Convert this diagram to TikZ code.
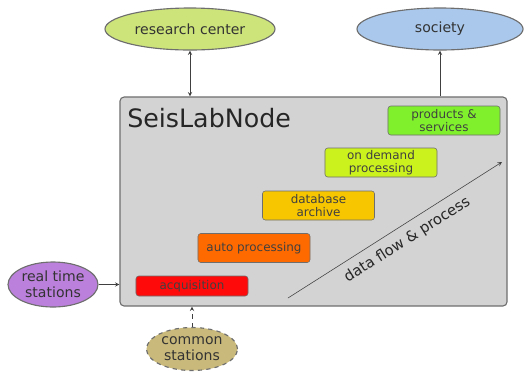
\documentclass[tikz,border=0pt]{standalone}
\usepackage{fontspec}
\setmainfont{DejaVu Sans}
\usetikzlibrary{positioning,shapes.geometric,calc}

\definecolor{rcgreen}{HTML}{CDE47A}
\definecolor{socblue}{HTML}{A9C8EB}
\definecolor{labgray}{HTML}{D3D3D3}
\definecolor{prodgreen}{HTML}{80F02C}
\definecolor{demandgreen}{HTML}{CCF21E}
\definecolor{archgold}{HTML}{F7C600}
\definecolor{autoorange}{HTML}{FF6A00}
\definecolor{acqred}{HTML}{FF0A0A}
\definecolor{rtpurple}{HTML}{BB80DB}
\definecolor{cskhaki}{HTML}{C9B97A}
\definecolor{edgegray}{HTML}{6E6E6E}

\begin{document}
\begin{tikzpicture}[x=0.025cm, y=-0.025cm, >=stealth,
		cloud/.style={ellipse, draw=edgegray, thick, text=black!80, font=\fontsize{10}{11.5}\selectfont, align=center, inner sep=0pt},
		stagebox/.style={draw=edgegray, rounded corners=2pt, minimum width=2.8cm, minimum height=0.725cm, inner sep=0pt, align=center, text=black!75, font=\fontsize{8.5}{9.5}\selectfont},
		labbox/.style={draw=edgegray, thick, fill=labgray, rounded corners=3pt, minimum width=9.675cm, minimum height=5.225cm, inner sep=0pt}]
	\useasboundingbox (0,0) rectangle (525,371);

	% outer world
	\node[cloud, fill=rcgreen, minimum width=4.25cm, minimum height=1.05cm] (rc) at (190,29) {research center};
	\node[cloud, fill=socblue, minimum width=4.15cm, minimum height=1.05cm] (soc) at (440,29) {society};
	\node[cloud, fill=rtpurple, minimum width=2.25cm, minimum height=1.125cm] (rts) at (53,284.5) {real time\\stations};
	\node[cloud, fill=cskhaki, dashed, minimum width=2.275cm, minimum height=1.075cm] (cs) at (192,349) {common\\stations};

	% the node itself
	\node[labbox] (lab) at (313.5,201.5) {};
	\node[anchor=west, inner sep=0pt, text=black!85, font=\fontsize{18}{20}\selectfont] (title) at (127,118) {SeisLabNode};

	% stages
	\node[stagebox, fill=acqred, minimum height=0.5cm] (acq) at (192,286) {acquisition};
	\node[stagebox, fill=autoorange] (auto) at (254,248) {auto processing};
	\node[stagebox, fill=archgold] (arch) at (318.5,205.5) {database\\archive};
	\node[stagebox, fill=demandgreen] (demand) at (381,162.5) {on demand\\processing};
	\node[stagebox, fill=prodgreen] (prod) at (444,120.5) {products \&\\services};

	% connections
	\draw[<->, black!75] (rc.south) -- (rc.south |- lab.north);
	\draw[->, black!75] (soc.south |- lab.north) -- (soc.south);
	\draw[->, black!75] (rts.east) -- (rts.east -| lab.west);
	\draw[->, black!75, dashed] (cs.north) -- (cs.north |- lab.south);

	\coordinate (flowstart) at (288,298);
	\coordinate (flowend) at (502,162);
	\draw[->, black!75] (flowstart) -- (flowend) node[pos=0.52, below=2pt, sloped, text=black!85, font=\fontsize{10.5}{12}\selectfont] (flowlabel) {data flow \& process};
\end{tikzpicture}
\end{document}
